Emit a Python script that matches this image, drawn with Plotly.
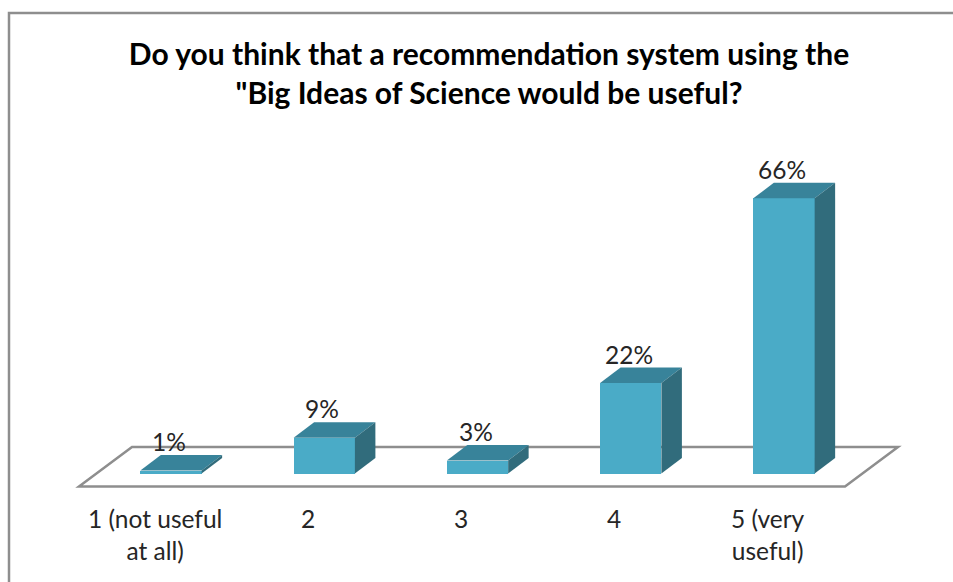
import plotly.graph_objects as go

categories = ["1 (not useful<br>at all)", "2", "3", "4", "5 (very<br>useful)"]
values = [0.7, 8.6, 3.1, 21.7, 66]
value_labels = ["1%", "9%", "3%", "22%", "66%"]
title_text = 'Do you think that a recommendation system using the<br>"Big Ideas of Science would be useful?'

FRONT = "#4AABC7"
TOP = "#38839A"
SIDE = "#316C7C"
LINE = "#8E8E8E"
TEXT = "#262626"
FONT = "Lato, Carlito, sans-serif"

W, H = 953, 582
PX_X = 153.25
PX_Y = 4.17
X0_PX = 171
Y0_PX = 473.5
BAR_W = 0.4
DX = 20.5 / PX_X
DY = 15.5 / PX_Y

xs = list(range(len(values)))
fig = go.Figure()

fig.add_trace(go.Bar(x=xs, y=values, width=BAR_W, marker=dict(color=FRONT, line=dict(width=0)),
                     hoverinfo="skip", showlegend=False))

for x, v in zip(xs, values):
    l, r = x - BAR_W / 2, x + BAR_W / 2
    fig.add_trace(go.Scatter(x=[l, r, r + DX, l + DX, l], y=[v, v, v + DY, v + DY, v],
                             mode="lines", fill="toself", fillcolor=TOP, line=dict(width=0),
                             hoverinfo="skip", showlegend=False))
    fig.add_trace(go.Scatter(x=[r, r + DX, r + DX, r, r], y=[0, DY, v + DY, v, 0],
                             mode="lines", fill="toself", fillcolor=SIDE, line=dict(width=0),
                             hoverinfo="skip", showlegend=False))

# Floor of the 3D plot
fl, fr = (79 - X0_PX) / PX_X, (845 - X0_PX) / PX_X
yf = (Y0_PX - 486.5) / PX_Y
yb = (Y0_PX - 447) / PX_Y
fig.add_shape(type="path", layer="below",
              path=f"M {fl} {yf} L {fr} {yf} L {fr + 53 / PX_X} {yb} L {fl + 53 / PX_X} {yb} Z",
              line=dict(color=LINE, width=2.5), fillcolor="white")

# Chart frame
fig.add_shape(type="path", xref="paper", yref="paper", layer="below",
              path=f"M {9/W} 0 L {9/W} {1-13/H} L 1 {1-13/H}",
              line=dict(color=LINE, width=2.5))

annotations = []
for x, v, t in zip(xs, values, value_labels):
    annotations.append(dict(x=x, y=v + DY, text=t, showarrow=False, yanchor="bottom",
                            xshift=-2, yshift=-3, font=dict(size=24.5, color=TEXT, family=FONT)))
for x, c in zip(xs, categories):
    annotations.append(dict(x=x - 16.5 / PX_X, y=(Y0_PX - 502) / PX_Y, text=c, showarrow=False,
                            yanchor="top", align="center",
                            font=dict(size=24.5, color=TEXT, family=FONT)))

fig.update_layout(
    width=W, height=H, margin=dict(l=0, r=0, t=0, b=0),
    paper_bgcolor="white", plot_bgcolor="white",
    bargap=0,
    title=dict(text=title_text, x=489 / W, xanchor="center", y=1 - 65 / H, yanchor="middle",
               font=dict(size=30, color="#000000", family=FONT, weight="bold")),
    xaxis=dict(range=[(0 - X0_PX) / PX_X, (W - X0_PX) / PX_X], visible=False, fixedrange=True),
    yaxis=dict(range=[(Y0_PX - H) / PX_Y, Y0_PX / PX_Y], visible=False, fixedrange=True),
    annotations=annotations,
)

fig.write_html("out.html", config={"displayModeBar": False},
               post_script="document.body.style.margin='0';document.documentElement.style.overflow='hidden';")
